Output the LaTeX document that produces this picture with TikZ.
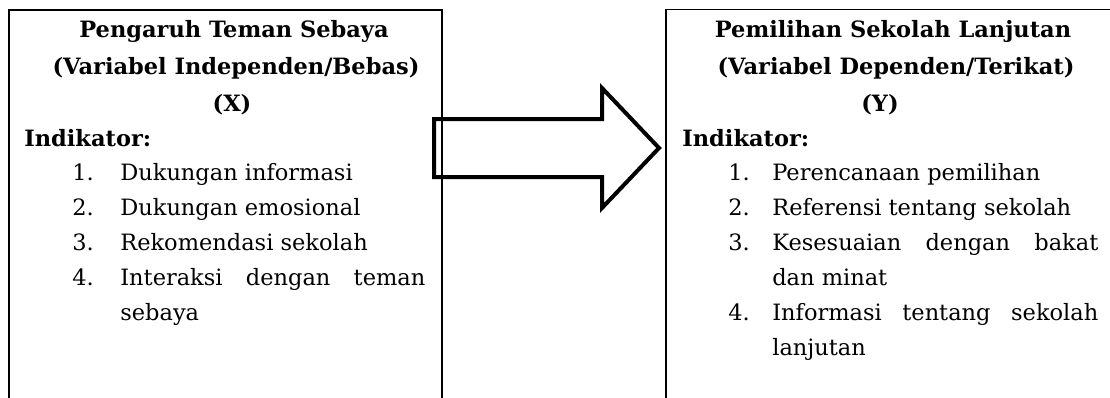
\documentclass[tikz,border=0pt]{standalone}
\usepackage{fontspec}
\setmainfont{DejaVu Serif}
\begin{document}
\begin{tikzpicture}[x=0.6pt,y=-0.6pt,
  huruf/.style={font=\fontsize{13.5}{16}\selectfont},
  judul/.style={huruf,font=\fontsize{13.5}{16}\selectfont\bfseries,anchor=base,inner sep=0pt},
  teks/.style={huruf,anchor=base west,inner sep=0pt},
  tebal/.style={teks,font=\fontsize{13.5}{16}\selectfont\bfseries}]
        \clip (0,0) rectangle (1110,398);
        %kotak kiri
        \draw[line width=1.2pt] (8.5,10) rectangle (442,420);
        \node[judul] (jx1) at (234,37) {Pengaruh Teman Sebaya};
        \node[judul] (jx2) at (236,74) {(Variabel Independen/Bebas)};
        \node[judul] (jx3) at (232,111) {(X)};
        \node[tebal] (ix) at (24,146) {Indikator:};
        \node[teks] (nx1) at (72,180) {1.};
        \node[teks] (tx1) at (120,180) {Dukungan informasi};
        \node[teks] (nx2) at (72,215) {2.};
        \node[teks] (tx2) at (120,215) {Dukungan emosional};
        \node[teks] (nx3) at (72,250) {3.};
        \node[teks] (tx3) at (120,250) {Rekomendasi sekolah};
        \node[teks] (nx4) at (72,285) {4.};
        \node[teks] (tx4) at (120,285) {\makebox[183pt][s]{Interaksi dengan teman}};
        \node[teks] (tx4b) at (120,320) {sebaya};
        %panah
        \draw[line width=2.4pt,miter limit=10] (434,119) -- (602,119) -- (602,88) -- (659,148)
            -- (602,208) -- (602,177) -- (434,177) -- cycle;
        %kotak kanan
        \draw[line width=1pt] (666,9.5) rectangle (1130,420);
        \node[judul] (jy1) at (893,37) {Pemilihan Sekolah Lanjutan};
        \node[judul] (jy2) at (896,74) {(Variabel Dependen/Terikat)};
        \node[judul] (jy3) at (880,111) {(Y)};
        \node[tebal] (iy) at (682,146) {Indikator:};
        \node[teks] (ny1) at (728,180) {1.};
        \node[teks] (ty1) at (772,180) {Perencanaan pemilihan};
        \node[teks] (ny2) at (728,215) {2.};
        \node[teks] (ty2) at (772,215) {Referensi tentang sekolah};
        \node[teks] (ny3) at (728,250) {3.};
        \node[teks] (ty3) at (772,250) {\makebox[195.6pt][s]{Kesesuaian dengan bakat}};
        \node[teks] (ty3b) at (772,285) {dan minat};
        \node[teks] (ny4) at (728,320) {4.};
        \node[teks] (ty4) at (772,320) {\makebox[195.6pt][s]{Informasi tentang sekolah}};
        \node[teks] (ty4b) at (772,355) {lanjutan};
    \end{tikzpicture}
\end{document}
